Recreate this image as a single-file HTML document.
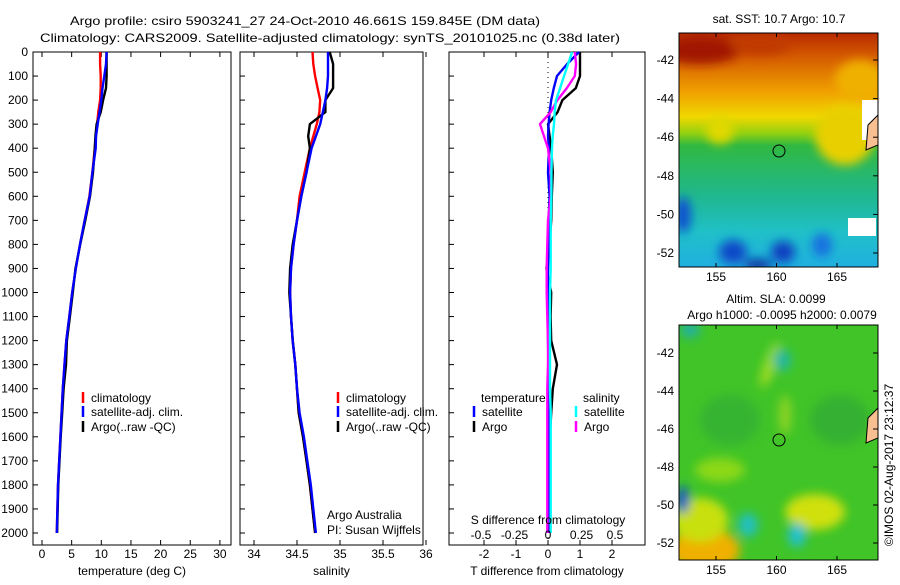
<!DOCTYPE html>
<html><head><meta charset="utf-8">
<style>
html,body{margin:0;padding:0;background:#fff;}
body{width:900px;height:580px;overflow:hidden;font-family:"Liberation Sans",sans-serif;}
svg text{font-family:"Liberation Sans",sans-serif;font-size:12px;fill:#000;}
</style></head>
<body>
<svg id="fig" width="900" height="580" viewBox="0 0 900 580" xmlns="http://www.w3.org/2000/svg">
<defs>
<linearGradient id="sstg" x1="0" y1="0" x2="0" y2="1">
<stop offset="0" stop-color="#b82a00"/><stop offset="0.1" stop-color="#d45a00"/>
<stop offset="0.25" stop-color="#f0a000"/><stop offset="0.36" stop-color="#f0d800"/>
<stop offset="0.43" stop-color="#90d010"/><stop offset="0.48" stop-color="#30b840"/>
<stop offset="0.7" stop-color="#20b890"/><stop offset="0.85" stop-color="#20c0c8"/>
<stop offset="1" stop-color="#20b0e0"/></linearGradient>
<filter id="bl" x="-50%" y="-50%" width="200%" height="200%"><feGaussianBlur stdDeviation="5"/></filter>
<clipPath id="c1"><rect x="679" y="33" width="199" height="234"/></clipPath>
<clipPath id="c2"><rect x="679" y="325" width="199" height="235"/></clipPath>
</defs>
<text x="305" y="25" text-anchor="middle" font-size="14" textLength="470" lengthAdjust="spacingAndGlyphs">Argo profile: csiro 5903241_27 24-Oct-2010 46.661S 159.845E (DM data)</text>
<text x="330" y="42" text-anchor="middle" font-size="14" textLength="580" lengthAdjust="spacingAndGlyphs">Climatology: CARS2009. Satellite-adjusted climatology: synTS_20101025.nc (0.38d later)</text>
<g id="panels"></g>
<g id="maps">
<g clip-path="url(#c1)">
<rect x="679" y="33" width="199" height="234" fill="url(#sstg)"/>
<g filter="url(#bl)">
<ellipse cx="700" cy="50" rx="40" ry="14" fill="#a01800"/>
<ellipse cx="760" cy="45" rx="30" ry="10" fill="#c03a00"/>
<ellipse cx="720" cy="130" rx="14" ry="14" fill="#e0d800"/>
<ellipse cx="845" cy="135" rx="30" ry="30" fill="#e8d000"/>
<ellipse cx="860" cy="80" rx="25" ry="20" fill="#f0b000"/>
<ellipse cx="683" cy="215" rx="8" ry="18" fill="#1050d0"/>
<ellipse cx="733" cy="252" rx="14" ry="12" fill="#1048c8"/>
<ellipse cx="783" cy="252" rx="12" ry="11" fill="#1040c0"/>
<ellipse cx="822" cy="245" rx="10" ry="12" fill="#1870e0"/>
<ellipse cx="758" cy="265" rx="14" ry="6" fill="#0830a0"/>
</g>
<rect x="862" y="100" width="16" height="40" fill="#fff"/>
<rect x="848" y="218" width="28" height="18" fill="#fff"/>
<path d="M868 125 L878 115 L878 145 L866 150 Z" fill="#f8c090" stroke="#000"/>
<circle cx="779" cy="151" r="6" fill="none" stroke="#000"/>
</g>
<rect x="679" y="33" width="199" height="234" fill="none" stroke="#000"/>
<g clip-path="url(#c2)">
<rect x="679" y="325" width="199" height="235" fill="#40c428"/>
<g filter="url(#bl)">
<ellipse cx="705" cy="550" rx="35" ry="22" fill="#f0b000"/>
<ellipse cx="700" cy="520" rx="28" ry="22" fill="#c8e010"/>
<ellipse cx="815" cy="512" rx="30" ry="18" fill="#d0e010"/>
<ellipse cx="720" cy="470" rx="25" ry="12" fill="#8cd818"/>
<ellipse cx="770" cy="365" rx="6" ry="24" fill="#a0dc20" transform="rotate(20 770 365)"/>
<ellipse cx="785" cy="415" rx="6" ry="20" fill="#90d420"/>
<ellipse cx="782" cy="360" rx="9" ry="11" fill="#20b8a0"/>
<ellipse cx="748" cy="525" rx="10" ry="12" fill="#20c0c0"/>
<ellipse cx="797" cy="535" rx="9" ry="12" fill="#20c0d0"/>
<ellipse cx="683" cy="500" rx="6" ry="14" fill="#1050d0"/>
<ellipse cx="690" cy="330" rx="10" ry="8" fill="#20b0a0"/>
<ellipse cx="840" cy="420" rx="30" ry="25" fill="#34b030"/>
<ellipse cx="730" cy="420" rx="30" ry="25" fill="#36b432"/>
</g>
<path d="M868 418 L878 408 L878 438 L866 443 Z" fill="#f8c090" stroke="#000"/>
<circle cx="779" cy="440" r="6" fill="none" stroke="#000"/>
</g>
<rect x="679" y="325" width="199" height="235" fill="none" stroke="#000"/>
<text x="779" y="23" text-anchor="middle">sat. SST: 10.7 Argo: 10.7</text>
<text x="776" y="303" text-anchor="middle">Altim. SLA: 0.0099</text>
<text x="782" y="319" text-anchor="middle">Argo h1000: -0.0095 h2000: 0.0079</text>
<text transform="translate(893,465) rotate(-90)" text-anchor="middle">©IMOS 02-Aug-2017 23:12:37</text>
<g id="mapticks"></g>
</g>
</svg>
<script>
// ---- data ----
const depths = [0,50,100,150,200,250,300,350,400,500,600,700,800,900,1000,1100,1200,1300,1400,1500,1600,1700,1800,1900,2000];
const tempClim = [9.8,9.8,9.9,9.9,9.8,9.5,9.3,9.1,8.9,8.5,8.0,7.2,6.4,5.7,5.1,4.6,4.1,3.8,3.5,3.3,3.1,2.9,2.7,2.6,2.5];
const tempSat  = [10.9,10.8,10.5,10.2,10.0,9.7,9.4,9.1,9.05,8.5,8.05,7.2,6.4,5.7,5.1,4.6,4.1,3.8,3.5,3.3,3.1,2.9,2.7,2.6,2.5];
const tempArgo = [10.9,10.9,10.9,10.8,10.3,9.9,9.2,9.0,8.9,8.6,8.1,7.3,6.45,5.65,5.2,4.7,4.2,4.05,3.65,3.4,3.15,2.95,2.75,2.65,2.55];
const salClim = [34.68,34.69,34.71,34.74,34.77,34.76,34.73,34.69,34.65,34.59,34.53,34.5,34.46,34.43,34.42,34.43,34.45,34.48,34.5,34.52,34.57,34.61,34.65,34.68,34.71];
const salSat  = [34.86,34.86,34.86,34.85,34.83,34.8,34.77,34.72,34.67,34.61,34.55,34.5,34.46,34.43,34.42,34.43,34.45,34.48,34.5,34.53,34.58,34.62,34.66,34.69,34.72];
const salArgo = [34.88,34.92,34.92,34.92,34.83,34.83,34.65,34.63,34.65,34.61,34.55,34.5,34.45,34.42,34.41,34.43,34.45,34.48,34.5,34.52,34.57,34.61,34.65,34.68,34.71];
const tDiffSat  = [0.97,0.6,0.28,0.18,0.1,0.05,0.02,0.0,0.03,0.0,0.05,0.02,0.02,0.0,0.0,0.0,0.0,0.02,0.02,0.02,0.02,0.02,0.04,0.05,0.06];
const tDiffArgo = [1.0,1.0,1.0,0.87,0.45,0.3,0.0,0.05,0.1,0.15,0.12,0.1,0.05,-0.05,0.1,0.08,0.1,0.28,0.15,0.1,0.06,0.05,0.05,0.05,0.05];
const sDiffSat  = [0.18,0.15,0.12,0.09,0.06,0.05,0.045,0.035,0.03,0.025,0.025,0.02,0.02,0.02,0.015,0.015,0.015,0.015,0.015,0.02,0.02,0.02,0.02,0.02,0.02];
const sDiffArgo = [0.2,0.21,0.2,0.14,0.07,0.02,-0.06,-0.03,0.0,0.02,0.02,0.0,-0.005,-0.01,-0.01,-0.005,0.0,0.0,-0.005,-0.005,-0.005,-0.005,-0.005,-0.005,-0.005];
const depthTicks = [0,100,200,300,400,500,600,700,800,900,1000,1100,1200,1300,1400,1500,1600,1700,1800,1900,2000];
const tempTicks = [0,5,10,15,20,25,30];
const salTicks = [34,34.5,35,35.5,36];
const tdTicks = [-2,-1,0,1,2];
const sdTicks = [-0.5,-0.25,0,0.25,0.5];
const latTicks = [-42,-44,-46,-48,-50,-52];
const lonTicks = [155,160,165];

// ---- axes ----
const TOP=52, BOT=545;
const yD = d => TOP + d*0.2405;
const xT = t => 42 + t*5.93;
const xS = s => 254 + (s-34)*86;
const xTD = t => 548 + t*32;
const xSD = s => 548 + s*134;
const NS='http://www.w3.org/2000/svg';
const panels=document.getElementById('panels');
function mk(tag,attrs,parent){const e=document.createElementNS(NS,tag);for(const k in attrs)e.setAttribute(k,attrs[k]);(parent||panels).appendChild(e);return e;}
function txt(x,y,s,anchor,parent){const e=mk('text',{x:x,y:y,'text-anchor':anchor||'middle'},parent);e.textContent=s;return e;}

function frame(x0,x1,name,ticksX,fx,labels,xlabel,showY){
  const g=mk('g',{});
  
  
  const r=mk('rect',{x:x0,y:TOP,width:x1-x0,height:BOT-TOP,fill:'none',stroke:'#000','stroke-width':1},g);
  
  
  depthTicks.forEach(d=>{
    mk('line',{x1:x0,x2:x0+5,y1:yD(d),y2:yD(d),stroke:'#000'},g);
    if(showY){const t=txt(28,yD(d)+4,String(d),'end',g);
      
      }
  });
  ticksX.forEach((v,i)=>{
    const x=fx(v);
    mk('line',{x1:x,x2:x,y1:TOP,y2:TOP+5,stroke:'#000'},g);
    mk('line',{x1:x,x2:x,y1:BOT,y2:BOT-5,stroke:'#000'},g);
    if(labels){const t=txt(x,558,labels[i],'middle',g);
      
      }
  });
  const xl=txt((x0+x1)/2,575,xlabel,'middle',g);
  
  
  return g;
}
function line(xs,fx,color,name,g){
  const pts=[];
  depths.forEach((d,i)=>{ pts.push(fx(xs[i]).toFixed(1)+','+yD(d).toFixed(1)); });
  const p=mk('polyline',{points:pts.join(' '),fill:'none',stroke:color,'stroke-width':2.4,'stroke-linejoin':'round'},g);
  
  
  return p;
}
function legend(x,y,color,label,g){
  const l=mk('line',{x1:x,x2:x,y1:y-10,y2:y+1,stroke:color,'stroke-width':2.5},g);
  
  
  const t=txt(x+8,y,label,'start',g);
  
  
}

// panel 1
const g1=frame(33,231,'temperature-panel',tempTicks,xT,tempTicks.map(String),'temperature (deg C)',true);
line(tempClim,xT,'#f00','temp-climatology-line',g1);
line(tempArgo,xT,'#000','temp-argo-line',g1);
line(tempSat,xT,'#00f','temp-satellite-line',g1);
legend(83,402,'#f00','climatology',g1);
legend(83,416,'#00f','satellite-adj. clim.',g1);
legend(83,431,'#000','Argo(..raw -QC)',g1);

// panel 2
const g2=frame(240,423,'salinity-panel',salTicks,xS,['34','34.5','35','35.5','36'],'salinity',false);
line(salClim,xS,'#f00','sal-climatology-line',g2);
line(salArgo,xS,'#000','sal-argo-line',g2);
line(salSat,xS,'#00f','sal-satellite-line',g2);
legend(338,402,'#f00','climatology',g2);
legend(338,416,'#00f','satellite-adj. clim.',g2);
legend(338,431,'#000','Argo(..raw -QC)',g2);
const a1=txt(327,519,'Argo Australia','start',g2);


const a2=txt(327,534,'PI: Susan Wijffels','start',g2);



// panel 3
const g3=frame(449,645,'difference-panel',tdTicks,xTD,['-2','-1','0','1','2'],'T difference from climatology',false);
const zl=mk('line',{x1:xTD(0),x2:xTD(0),y1:TOP,y2:BOT,stroke:'#000','stroke-dasharray':'1,4'},g3);


line(tDiffArgo,xTD,'#000','tdiff-argo-line',g3);
line(tDiffSat,xTD,'#00f','tdiff-satellite-line',g3);
line(sDiffArgo,xSD,'#f0f','sdiff-argo-line',g3);
line(sDiffSat,xSD,'#0ff','sdiff-satellite-line',g3);
const th=txt(481,402,'temperature','start',g3);


const sh=txt(583,402,'salinity','start',g3);


legend(474,416,'#00f','satellite',g3);
legend(474,431,'#000','Argo',g3);
legend(576,416,'#0ff','satellite',g3);
legend(576,431,'#f0f','Argo',g3);
const sdt=txt(548,524,'S difference from climatology','middle',g3);


sdTicks.forEach(v=>{
  const t=txt(xSD(v),539,String(v),'middle',g3);
  
  
});

// map ticks
const mt=document.getElementById('mapticks');
const yLat1 = l => 60 + (-42-l)*19.3;
const yLat2 = l => 353 + (-42-l)*19.0;
const xLon = l => 716 + (l-155)*12.1;
latTicks.forEach(l=>{
  [yLat1,yLat2].forEach(f=>{
    const y=f(l);
    mk('line',{x1:873,x2:878,y1:y,y2:y,stroke:'#000'},mt);
    const t=txt(674,y+4,String(l),'end',mt);
    
    
  });
});
lonTicks.forEach(l=>{
  const x=xLon(l);
  [[33,267,281],[325,560,574]].forEach(([t0,b0,ly])=>{
    mk('line',{x1:x,x2:x,y1:t0,y2:t0+4,stroke:'#000'},mt);
    mk('line',{x1:x,x2:x,y1:b0,y2:b0-4,stroke:'#000'},mt);
    const t=txt(x,ly,String(l),'middle',mt);
    
    
  });
});
</script>
</body></html>
